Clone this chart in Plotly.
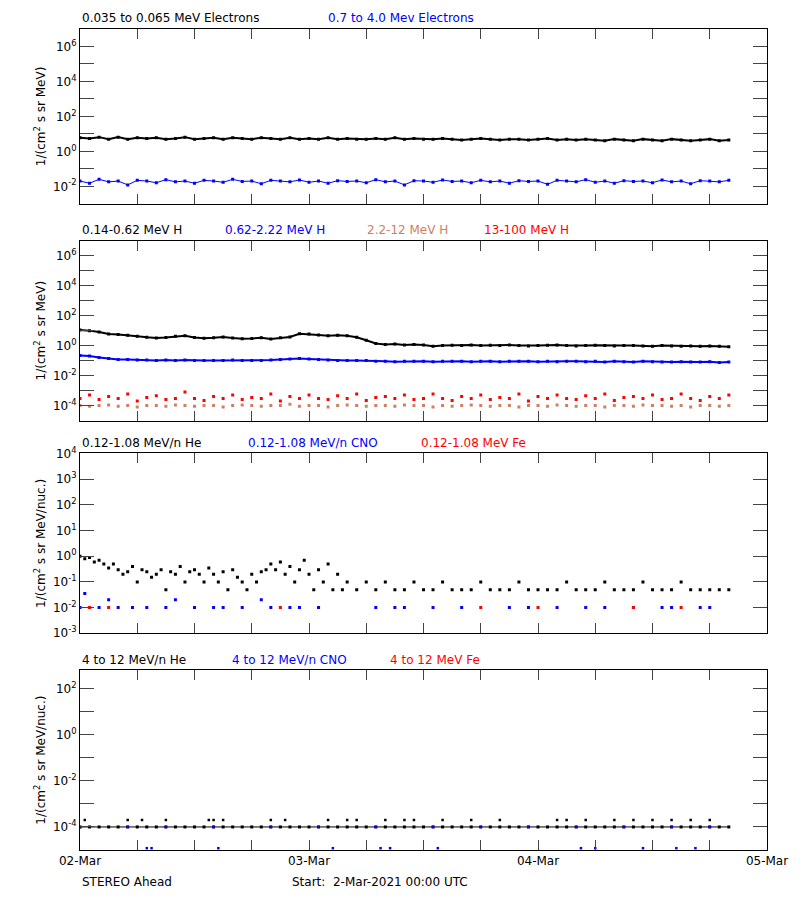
import numpy as np
import pandas as pd
import plotly.graph_objects as go
from plotly.subplots import make_subplots

START = pd.Timestamp("2021-03-02 00:00")

# hourly values, starting 02-Mar 00:00
e_low = [6, 5.5, 6.5, 5, 6.5, 5, 6, 5.5, 6, 5, 5.5, 6.5, 5, 5.5, 6, 5, 6, 5.5, 5, 6, 5.5, 5, 6, 5,
         5.5, 5, 6, 5, 5.5, 5, 5, 5.5, 5, 6, 5, 5.5, 5, 5, 5.5, 5, 4.5, 5, 5.5, 5, 4.5, 5, 5, 4.5,
         5, 5.5, 4.5, 5, 4.5, 5, 4.5, 4, 5, 4.5, 4, 5, 4.5, 4, 5, 4.5, 4, 4.5, 5, 4, 4.5]
e_high = [0.02, 0.015, 0.025, 0.018, 0.02, 0.012, 0.022, 0.02, 0.016, 0.024, 0.018, 0.02, 0.015, 0.022,
          0.02, 0.017, 0.025, 0.019, 0.02, 0.014, 0.022, 0.02, 0.018, 0.023, 0.017, 0.02, 0.015, 0.021,
          0.019, 0.02, 0.016, 0.024, 0.018, 0.02, 0.012, 0.021, 0.02, 0.017, 0.023, 0.019, 0.02, 0.016,
          0.022, 0.018, 0.02, 0.015, 0.021, 0.019, 0.02, 0.013, 0.022, 0.02, 0.018, 0.024, 0.017, 0.02,
          0.015, 0.021, 0.019, 0.02, 0.016, 0.023, 0.018, 0.02, 0.014, 0.021, 0.02, 0.018, 0.022]

h_1 = [11, 10, 8, 6, 5.5, 5, 4.2, 3.6, 3.2, 3.5, 4.2, 4.6, 3.5, 3.1, 3.3, 3.8, 3.2, 2.9, 3.0, 3.3,
       2.8, 3.4, 3.8, 6.2, 6.0, 5.2, 4.6, 5.0, 4.5, 3.6, 2.3, 1.4, 1.2, 1.3, 1.1, 1.2, 1.1, 0.9, 1.0,
       1.05, 1.0, 1.1, 1.0, 1.05, 1.0, 1.1, 1.0, 0.95, 1.0, 1.05, 1.1, 1.0, 0.95, 1.0, 1.05, 1.0,
       0.95, 1.0, 1.0, 0.95, 0.9, 1.0, 0.95, 0.9, 0.95, 0.9, 0.95, 0.9, 0.85]
h_2 = [0.22, 0.2, 0.16, 0.14, 0.12, 0.12, 0.11, 0.11, 0.1, 0.11, 0.1, 0.11, 0.1, 0.1, 0.1, 0.1,
       0.11, 0.1, 0.1, 0.1, 0.11, 0.12, 0.13, 0.14, 0.13, 0.12, 0.11, 0.1, 0.1, 0.1, 0.1, 0.09, 0.09,
       0.085, 0.09, 0.09, 0.09, 0.085, 0.09, 0.09, 0.09, 0.085, 0.09, 0.09, 0.085, 0.09, 0.09, 0.09,
       0.085, 0.09, 0.085, 0.09, 0.09, 0.085, 0.09, 0.08, 0.09, 0.085, 0.08, 0.09, 0.085, 0.08, 0.08,
       0.085, 0.08, 0.08, 0.085, 0.075, 0.08]
h_3 = [1e-4, 9e-5, 1e-4, 1.1e-4, 9e-5, 1e-4, 8e-5, 1e-4, 1e-4, 9e-5, 1.1e-4, 1e-4, 9e-5, 1e-4,
       1e-4, 8e-5, 1e-4, 1.1e-4, 1e-4, 9e-5, 1e-4, 1e-4, 1.2e-4, 9e-5, 1e-4, 1e-4, 8e-5, 1e-4, 1.1e-4,
       1e-4, 9e-5, 1e-4, 1e-4, 9e-5, 1.1e-4, 1e-4, 1e-4, 8e-5, 1e-4, 9e-5, 1e-4, 1.1e-4, 1e-4, 9e-5,
       1e-4, 1e-4, 8e-5, 1e-4, 1e-4, 9e-5, 1.1e-4, 1e-4, 9e-5, 1e-4, 1e-4, 8e-5, 1e-4, 1e-4, 9e-5,
       1.1e-4, 1e-4, 1e-4, 9e-5, 1e-4, 8e-5, 1e-4, 1e-4, 9e-5, 1e-4]
h_4 = [3e-4, 5e-4, 2.5e-4, 4e-4, 3e-4, 6e-4, 2e-4, 3.5e-4, 4.5e-4, 2.5e-4, 3e-4, 8e-4, 3e-4, 2.2e-4,
       4e-4, 3e-4, 5e-4, 2.5e-4, 3.5e-4, 3e-4, 6e-4, 2e-4, 4e-4, 3e-4, 5e-4, 3e-4, 2.5e-4, 4.5e-4,
       3e-4, 6e-4, 2.2e-4, 3.5e-4, 4e-4, 3e-4, 5e-4, 2.5e-4, 3e-4, 6e-4, 3e-4, 2.2e-4, 4e-4, 3e-4,
       5e-4, 2.5e-4, 3.5e-4, 3e-4, 6e-4, 2e-4, 4e-4, 3e-4, 5e-4, 3e-4, 2.5e-4, 4.5e-4, 3e-4, 6e-4,
       2.2e-4, 3.5e-4, 4e-4, 3e-4, 5e-4, 2.5e-4, 3e-4, 6e-4, 3e-4, 2.2e-4, 4e-4, 3e-4, 5e-4]

# sparse points: (hour, value)
he_low_t = [0, 0.5, 1, 1.5, 2, 2.5, 3, 3.5, 4, 4.5, 5, 5.5, 6, 6.5, 7, 7.5, 8, 8.5, 9, 9.5, 10, 10.5,
            11, 11.5, 12, 12.5, 13, 13.5, 14, 14.5, 15, 15.5, 16, 16.5, 17, 17.5, 18, 18.5, 19, 19.5,
            20, 20.5, 21, 21.5, 22, 22.5, 23, 23.5, 24, 24.5, 25, 25.5, 26, 26.5, 27, 27.5, 28, 29,
            30, 31, 32, 33, 34, 35, 36, 37, 38, 39, 40, 41, 42, 43, 44, 45, 46, 47, 48, 49, 50, 51,
            52, 53, 54, 55, 56, 57, 58, 59, 60, 61, 62, 63, 64, 65, 66, 67, 68]
he_low_v = [1.0, 0.8, 0.9, 0.6, 0.7, 0.5, 0.35, 0.5, 0.3, 0.2, 0.25, 0.4, 0.1, 0.3, 0.25, 0.15,
            0.2, 0.3, 0.05, 0.25, 0.2, 0.4, 0.1, 0.25, 0.3, 0.2, 0.1, 0.35, 0.2, 0.1, 0.25, 0.05,
            0.3, 0.15, 0.1, 0.05, 0.2, 0.1, 0.25, 0.3, 0.5, 0.3, 0.6, 0.2, 0.4, 0.1, 0.3, 0.7, 0.2,
            0.05, 0.3, 0.1, 0.5, 0.05, 0.2, 0.05, 0.1, 0.05, 0.1, 0.05, 0.1, 0.05, 0.05, 0.1, 0.05,
            0.05, 0.1, 0.05, 0.05, 0.05, 0.1, 0.05, 0.05, 0.05, 0.1, 0.05, 0.05, 0.05, 0.05, 0.1, 0.05,
            0.05, 0.05, 0.1, 0.05, 0.05, 0.05, 0.1, 0.05, 0.05, 0.05, 0.1, 0.05, 0.05, 0.05, 0.05, 0.05]
cno_low_t = [0, 0.5, 1, 2, 3, 4, 5.5, 7, 9, 10, 12, 14, 15, 17, 19, 20, 22, 23, 25, 31, 33, 34,
             37, 40, 45, 47, 50, 53, 55, 58, 61, 62, 65, 66]
cno_low_v = [0.01, 0.035, 0.01, 0.01, 0.02, 0.01, 0.01, 0.01, 0.01, 0.02, 0.01, 0.01, 0.01, 0.01,
             0.02, 0.01, 0.01, 0.01, 0.01, 0.01, 0.01, 0.01, 0.01, 0.01, 0.01, 0.01, 0.01, 0.01,
             0.01, 0.01, 0.01, 0.01, 0.01, 0.01]
fe_low_t = [1, 3, 21, 42, 48, 58, 63]
fe_low_v = [0.01, 0.01, 0.01, 0.01, 0.01, 0.01, 0.01]

he_high = [1e-4] * 69
he_high_t = [0.5, 5, 6.5, 9, 13.5, 14, 15, 20, 21.5, 26, 28, 29, 32, 34, 35, 38, 41, 44, 50, 51,
             53, 56, 58, 60, 62, 64, 66]
he_high_v = [2e-4] * len(he_high_t)
cno_high_t = [0, 5, 9, 14, 20, 25, 31, 37, 42, 47, 52, 57, 62, 66, 7, 7.5, 14.5, 26.5, 31.5,
              32.5, 37.5, 52.5, 54, 59, 62.5, 64.5]
cno_high_v = [1e-4] * 14 + [1.2e-5] * 12

hours = np.arange(69)


def tm(h):
    return START + pd.to_timedelta(np.asarray(h, dtype=float), unit="h")


fig = make_subplots(rows=4, cols=1)
BLUE = "#0000ff"
RED = "#ff0000"
BROWN = "#d08060"


def dense(y, color, row, w=2.0):
    fig.add_trace(go.Scatter(x=tm(hours), y=y, mode="lines+markers", line=dict(color=color, width=w),
                             marker=dict(color=color, size=3, symbol="square"),
                             showlegend=False), row=row, col=1)


def dots(t, y, color, row, s=3):
    fig.add_trace(go.Scatter(x=tm(t), y=y, mode="markers",
                             marker=dict(color=color, size=s, symbol="square"),
                             showlegend=False), row=row, col=1)


dense(e_low, "black", 1)
dense(e_high, BLUE, 1, 1)
dense(h_1, "black", 2)
dense(h_2, BLUE, 2)
dots(hours, h_3, BROWN, 2)
dots(hours, h_4, RED, 2)
dots(he_low_t, he_low_v, "black", 3)
dots(cno_low_t, cno_low_v, BLUE, 3)
dots(fe_low_t, fe_low_v, RED, 3)
dense(he_high, "black", 4, 1)
dots(he_high_t, he_high_v, "black", 4, 2.5)
dots(cno_high_t, cno_high_v, BLUE, 4, 2.5)

# page is offset 8px by the body margin
OFF = 8
W, H = 800 - OFF, 900 - OFF
top, bot = 28 - OFF, 850 - OFF
left, right = 80 - OFF, 778 - OFF
panels = [(28, 203), (240, 420), (453, 633), (670, 850)]
yranges = [(-3, 7), (-5, 7), (-3, 4), (-5, 2.8)]
ylabels = ["1/(cm<sup>2</sup> s sr MeV)", "1/(cm<sup>2</sup> s sr MeV)",
           "1/(cm<sup>2</sup> s sr MeV/nuc.)", "1/(cm<sup>2</sup> s sr MeV/nuc.)"]

xt = pd.date_range("2021-03-02", "2021-03-05", freq="6h")
for i, (y0, y1) in enumerate(panels):
    r = i + 1
    lo, hi = yranges[i]
    exps = list(range(int(np.ceil(lo)), int(np.floor(hi)) + 1))
    if i == 2:
        ttext = ["10<sup>%d</sup>" % e for e in exps]
    else:
        ttext = ["10<sup>%d</sup>" % e if e % 2 == 0 else "" for e in exps]
    fig.update_yaxes(row=r, col=1, type="log", range=[lo, hi],
                     domain=[(850 - y1) / 822, (850 - y0) / 822],
                     tickvals=[10.0 ** e for e in exps], ticktext=ttext,
                     ticks="inside", ticklen=14, mirror="allticks", showline=True,
                     linecolor="black", linewidth=1, showgrid=False, zeroline=False,
                     tickfont=dict(size=12),
                     title=dict(text=ylabels[i], font=dict(size=12), standoff=4))
    fig.update_xaxes(row=r, col=1, type="date", range=[xt[0], xt[-1]], tickvals=xt,
                     ticktext=[t.strftime("%d-%b") if t.hour == 0 and i == 3 else "" for t in xt],
                     ticks="inside", ticklen=10, mirror="allticks", showline=True,
                     linecolor="black", linewidth=1, showgrid=False, zeroline=False,
                     tickfont=dict(size=12))

titles = [
    [(80, "0.035 to 0.065 MeV Electrons", "black"), (330, "0.7 to 4.0 Mev Electrons", BLUE)],
    [(80, "0.14-0.62 MeV H", "black"), (225, "0.62-2.22 MeV H", BLUE),
     (370, "2.2-12 MeV H", BROWN), (488, "13-100 MeV H", RED)],
    [(80, "0.12-1.08 MeV/n He", "black"), (249, "0.12-1.08 MeV/n CNO", BLUE),
     (424, "0.12-1.08 MeV Fe", RED)],
    [(80, "4 to 12 MeV/n He", "black"), (232, "4 to 12 MeV/n CNO", BLUE),
     (393, "4 to 12 MeV Fe", RED)],
]
for i, row in enumerate(titles):
    for px, txt, col in row:
        fig.add_annotation(xref="paper", yref="paper", x=(px - 80) / 698,
                           y=(850 - panels[i][0]) / 822 + 0.002,
                           text=txt, showarrow=False, xanchor="left", yanchor="bottom",
                           font=dict(color=col, size=12))
fig.add_annotation(xref="paper", yref="paper", x=0, y=-23 / 822, text="STEREO Ahead",
                   showarrow=False, xanchor="left", yanchor="top", font=dict(size=12))
fig.add_annotation(xref="paper", yref="paper", x=(293 - 80) / 698, y=-23 / 822,
                   text="Start:  2-Mar-2021 00:00 UTC",
                   showarrow=False, xanchor="left", yanchor="top", font=dict(size=12))

fig.update_layout(width=W, height=H, margin=dict(l=left, r=W - right, t=top, b=H - bot),
                  plot_bgcolor="white", paper_bgcolor="white",
                  font=dict(family="DejaVu Sans", size=12, color="black"))
fig.write_html("out.html")
